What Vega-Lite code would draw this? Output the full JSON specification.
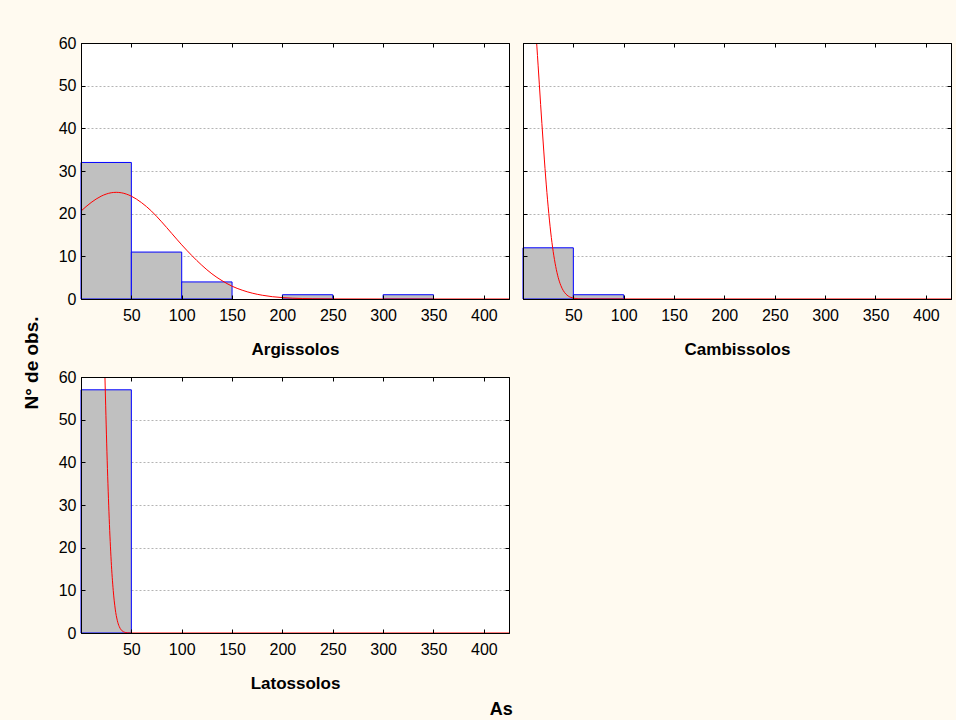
{
  "$schema": "https://vega.github.io/schema/vega-lite/v6.json",
  "background": "#FFFAF0",
  "padding": {"left": 22, "top": 34, "right": 4, "bottom": 3},
  "title": {"text": "As", "orient": "bottom", "anchor": "middle", "fontSize": 18, "fontWeight": "bold", "font": "Liberation Sans", "color": "black", "offset": 9, "dx": 14},
  "datasets": {
    "bars": [
      {"soil": "Argissolos", "x0": 0, "x1": 50, "count": 32},
      {"soil": "Argissolos", "x0": 50, "x1": 100, "count": 11},
      {"soil": "Argissolos", "x0": 100, "x1": 150, "count": 4},
      {"soil": "Argissolos", "x0": 200, "x1": 250, "count": 1},
      {"soil": "Argissolos", "x0": 300, "x1": 350, "count": 1},
      {"soil": "Cambissolos", "x0": 0, "x1": 50, "count": 12},
      {"soil": "Cambissolos", "x0": 50, "x1": 100, "count": 1},
      {"soil": "Latossolos", "x0": 0, "x1": 50, "count": 57}
    ],
    "curve": [
      {"soil": "Argissolos", "x": 0, "y": 20.6},
      {"soil": "Argissolos", "x": 10, "y": 22.6},
      {"soil": "Argissolos", "x": 20, "y": 24.1},
      {"soil": "Argissolos", "x": 30, "y": 24.9},
      {"soil": "Argissolos", "x": 35, "y": 25.0},
      {"soil": "Argissolos", "x": 40, "y": 24.9},
      {"soil": "Argissolos", "x": 50, "y": 24.1},
      {"soil": "Argissolos", "x": 60, "y": 22.6},
      {"soil": "Argissolos", "x": 70, "y": 20.6},
      {"soil": "Argissolos", "x": 80, "y": 18.1},
      {"soil": "Argissolos", "x": 90, "y": 15.4},
      {"soil": "Argissolos", "x": 100, "y": 12.7},
      {"soil": "Argissolos", "x": 110, "y": 10.2},
      {"soil": "Argissolos", "x": 120, "y": 7.9},
      {"soil": "Argissolos", "x": 130, "y": 5.9},
      {"soil": "Argissolos", "x": 140, "y": 4.3},
      {"soil": "Argissolos", "x": 150, "y": 3.0},
      {"soil": "Argissolos", "x": 160, "y": 2.07},
      {"soil": "Argissolos", "x": 170, "y": 1.37},
      {"soil": "Argissolos", "x": 180, "y": 0.88},
      {"soil": "Argissolos", "x": 190, "y": 0.54},
      {"soil": "Argissolos", "x": 200, "y": 0.33},
      {"soil": "Argissolos", "x": 210, "y": 0.19},
      {"soil": "Argissolos", "x": 220, "y": 0.11},
      {"soil": "Argissolos", "x": 230, "y": 0.06},
      {"soil": "Argissolos", "x": 250, "y": 0.016},
      {"soil": "Argissolos", "x": 300, "y": 0},
      {"soil": "Argissolos", "x": 425, "y": 0},
      {"soil": "Cambissolos", "x": 5, "y": 81.6},
      {"soil": "Cambissolos", "x": 10, "y": 71.5},
      {"soil": "Cambissolos", "x": 12.5, "y": 63.6},
      {"soil": "Cambissolos", "x": 15, "y": 54.8},
      {"soil": "Cambissolos", "x": 17.5, "y": 45.6},
      {"soil": "Cambissolos", "x": 20, "y": 36.8},
      {"soil": "Cambissolos", "x": 22.5, "y": 28.6},
      {"soil": "Cambissolos", "x": 25, "y": 21.6},
      {"soil": "Cambissolos", "x": 27.5, "y": 15.7},
      {"soil": "Cambissolos", "x": 30, "y": 11.1},
      {"soil": "Cambissolos", "x": 32.5, "y": 7.6},
      {"soil": "Cambissolos", "x": 35, "y": 5.0},
      {"soil": "Cambissolos", "x": 37.5, "y": 3.2},
      {"soil": "Cambissolos", "x": 40, "y": 1.97},
      {"soil": "Cambissolos", "x": 42.5, "y": 1.18},
      {"soil": "Cambissolos", "x": 45, "y": 0.68},
      {"soil": "Cambissolos", "x": 47.5, "y": 0.38},
      {"soil": "Cambissolos", "x": 50, "y": 0.21},
      {"soil": "Cambissolos", "x": 55, "y": 0.05},
      {"soil": "Cambissolos", "x": 60, "y": 0.01},
      {"soil": "Cambissolos", "x": 425, "y": 0},
      {"soil": "Latossolos", "x": 16, "y": 138.7},
      {"soil": "Latossolos", "x": 20, "y": 100.1},
      {"soil": "Latossolos", "x": 22, "y": 78.3},
      {"soil": "Latossolos", "x": 24, "y": 57.9},
      {"soil": "Latossolos", "x": 26, "y": 40.5},
      {"soil": "Latossolos", "x": 28, "y": 26.9},
      {"soil": "Latossolos", "x": 30, "y": 16.8},
      {"soil": "Latossolos", "x": 32, "y": 10.0},
      {"soil": "Latossolos", "x": 34, "y": 5.6},
      {"soil": "Latossolos", "x": 36, "y": 2.98},
      {"soil": "Latossolos", "x": 38, "y": 1.5},
      {"soil": "Latossolos", "x": 40, "y": 0.71},
      {"soil": "Latossolos", "x": 43, "y": 0.21},
      {"soil": "Latossolos", "x": 46, "y": 0.05},
      {"soil": "Latossolos", "x": 50, "y": 0},
      {"soil": "Latossolos", "x": 425, "y": 0}
    ]
  },
  "vconcat": [
    {
      "title": {"text": "N° de obs.", "orient": "left", "anchor": "middle", "fontSize": 19, "fontWeight": "bold", "font": "Liberation Sans", "color": "black", "offset": 16},
      "columns": 2,
      "bounds": "flush",
      "spacing": {"row": 78, "column": 14},
      "concat": [
        {
          "width": 428, "height": 256,
          "layer": [
            {
              "data": {"name": "bars"},
              "transform": [{"filter": "datum.soil === 'Argissolos'"}],
              "mark": {"type": "rect", "fill": "#C0C0C0", "stroke": "#0000FF", "strokeWidth": 1},
              "encoding": {
                "x": {"field": "x0", "type": "quantitative", "scale": {"domain": [0, 425], "nice": false, "zero": false}, "axis": {"orient": "bottom", "values": [50, 100, 150, 200, 250, 300, 350, 400], "title": "Argissolos", "grid": false, "zindex": 1}},
                "x2": {"field": "x1"},
                "y": {"field": "count", "type": "quantitative", "scale": {"domain": [0, 60], "nice": false}, "axis": {"orient": "left", "values": [0, 10, 20, 30, 40, 50, 60], "title": null, "grid": false, "zindex": 1}},
                "y2": {"datum": 0}
              }
            },
            {
              "data": {"name": "curve"},
              "transform": [{"filter": "datum.soil === 'Argissolos'"}],
              "mark": {"type": "line", "color": "#FF0000", "strokeWidth": 1, "clip": true, "interpolate": "monotone"},
              "encoding": {
                "x": {"field": "x", "type": "quantitative", "scale": {"domain": [0, 425], "nice": false, "zero": false}, "axis": {"orient": "top", "labels": false, "title": null, "values": [50, 100, 150, 200, 250, 300, 350, 400], "grid": false, "zindex": 1}},
                "y": {"field": "y", "type": "quantitative", "scale": {"domain": [0, 60], "nice": false}, "axis": {"orient": "right", "labels": false, "title": null, "values": [0, 10, 20, 30, 40, 50, 60], "grid": true, "zindex": 0}}
              }
            }
          ],
          "resolve": {"axis": {"x": "independent", "y": "independent"}}
        },
        {
          "width": 428, "height": 256,
          "layer": [
            {
              "data": {"name": "bars"},
              "transform": [{"filter": "datum.soil === 'Cambissolos'"}],
              "mark": {"type": "rect", "fill": "#C0C0C0", "stroke": "#0000FF", "strokeWidth": 1},
              "encoding": {
                "x": {"field": "x0", "type": "quantitative", "scale": {"domain": [0, 425], "nice": false, "zero": false}, "axis": {"orient": "bottom", "values": [50, 100, 150, 200, 250, 300, 350, 400], "title": "Cambissolos", "grid": false, "zindex": 1}},
                "x2": {"field": "x1"},
                "y": {"field": "count", "type": "quantitative", "scale": {"domain": [0, 60], "nice": false}, "axis": {"orient": "left", "values": [0, 10, 20, 30, 40, 50, 60], "labels": false, "title": null, "grid": false, "zindex": 1}},
                "y2": {"datum": 0}
              }
            },
            {
              "data": {"name": "curve"},
              "transform": [{"filter": "datum.soil === 'Cambissolos'"}],
              "mark": {"type": "line", "color": "#FF0000", "strokeWidth": 1, "clip": true, "interpolate": "monotone"},
              "encoding": {
                "x": {"field": "x", "type": "quantitative", "scale": {"domain": [0, 425], "nice": false, "zero": false}, "axis": {"orient": "top", "labels": false, "title": null, "values": [50, 100, 150, 200, 250, 300, 350, 400], "grid": false, "zindex": 1}},
                "y": {"field": "y", "type": "quantitative", "scale": {"domain": [0, 60], "nice": false}, "axis": {"orient": "right", "labels": false, "title": null, "values": [0, 10, 20, 30, 40, 50, 60], "grid": true, "zindex": 0}}
              }
            }
          ],
          "resolve": {"axis": {"x": "independent", "y": "independent"}}
        },
        {
          "width": 428, "height": 256,
          "layer": [
            {
              "data": {"name": "bars"},
              "transform": [{"filter": "datum.soil === 'Latossolos'"}],
              "mark": {"type": "rect", "fill": "#C0C0C0", "stroke": "#0000FF", "strokeWidth": 1},
              "encoding": {
                "x": {"field": "x0", "type": "quantitative", "scale": {"domain": [0, 425], "nice": false, "zero": false}, "axis": {"orient": "bottom", "values": [50, 100, 150, 200, 250, 300, 350, 400], "title": "Latossolos", "grid": false, "zindex": 1}},
                "x2": {"field": "x1"},
                "y": {"field": "count", "type": "quantitative", "scale": {"domain": [0, 60], "nice": false}, "axis": {"orient": "left", "values": [0, 10, 20, 30, 40, 50, 60], "title": null, "grid": false, "zindex": 1}},
                "y2": {"datum": 0}
              }
            },
            {
              "data": {"name": "curve"},
              "transform": [{"filter": "datum.soil === 'Latossolos'"}],
              "mark": {"type": "line", "color": "#FF0000", "strokeWidth": 1, "clip": true, "interpolate": "monotone"},
              "encoding": {
                "x": {"field": "x", "type": "quantitative", "scale": {"domain": [0, 425], "nice": false, "zero": false}, "axis": {"orient": "top", "labels": false, "title": null, "values": [50, 100, 150, 200, 250, 300, 350, 400], "grid": false, "zindex": 1}},
                "y": {"field": "y", "type": "quantitative", "scale": {"domain": [0, 60], "nice": false}, "axis": {"orient": "right", "labels": false, "title": null, "values": [0, 10, 20, 30, 40, 50, 60], "grid": true, "zindex": 0}}
              }
            }
          ],
          "resolve": {"axis": {"x": "independent", "y": "independent"}}
        }
      ]
    }
  ],
  "config": {
    "font": "Liberation Sans",
    "view": {"stroke": "black", "strokeWidth": 1, "fill": "white"},
    "axis": {
      "labelFont": "Liberation Sans",
      "labelFontSize": 16,
      "labelColor": "black",
      "labelPadding": 9,
      "labelFlush": false,
      "labelOverlap": false,
      "tickColor": "black",
      "tickSize": -4,
      "tickWidth": 1,
      "domainColor": "black",
      "domainWidth": 1,
      "gridColor": "#b4b4b4",
      "gridDash": [2, 2],
      "gridWidth": 1,
      "titleFont": "Liberation Sans",
      "titleFontSize": 17,
      "titleFontWeight": "bold",
      "titleColor": "black",
      "titlePadding": 18
    },
    "axisBottom": {"labelPadding": 12},
    "title": {"font": "Liberation Sans", "color": "black"}
  }
}
